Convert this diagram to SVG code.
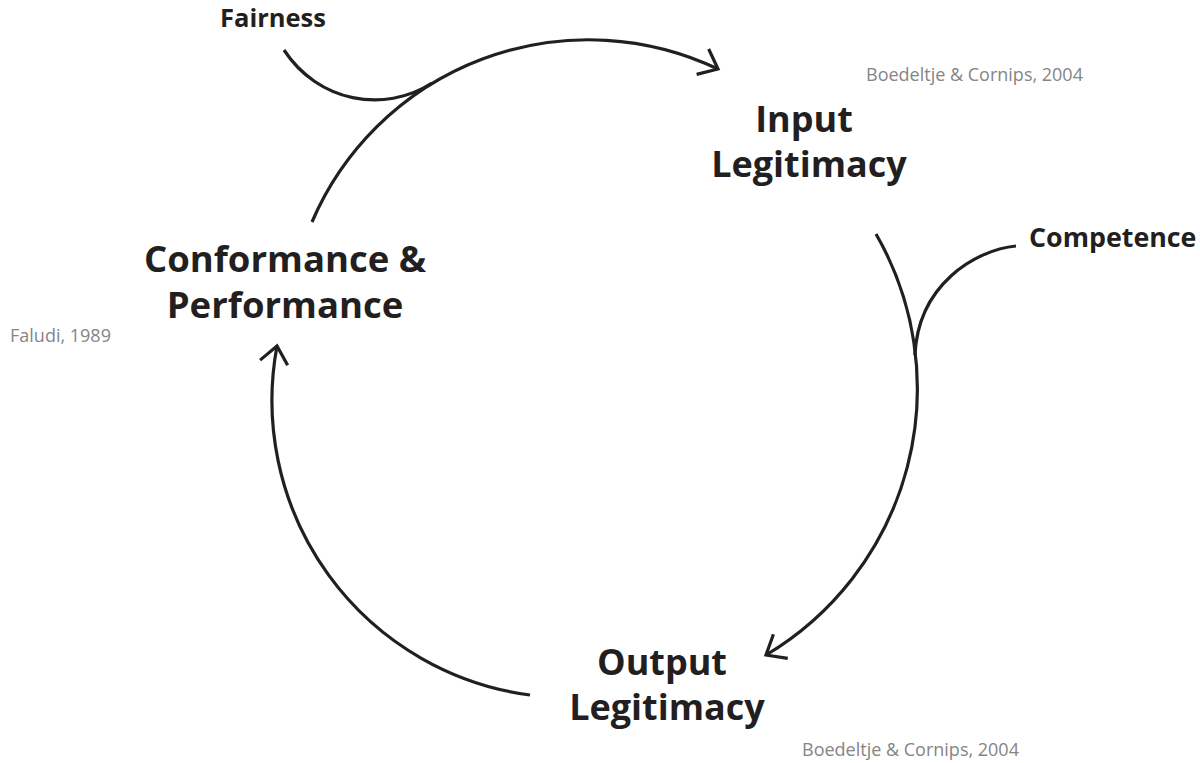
<svg xmlns="http://www.w3.org/2000/svg" width="1200" height="763" viewBox="0 0 1200 763">
<style>
.main{font-family:"Open Sans","Noto Sans","Liberation Sans",sans-serif;font-weight:700;font-size:36px;fill:#231f20;text-anchor:middle}
.side{font-family:"Open Sans","Noto Sans","Liberation Sans",sans-serif;font-weight:700;font-size:25.5px;fill:#231f20}
.cite{font-family:"Open Sans","Noto Sans","Liberation Sans",sans-serif;font-weight:400;font-size:18px;fill:#858585}
.line{fill:none;stroke:#231f20;stroke-width:3.2;stroke-linecap:butt}
</style>
<defs>
<marker id="arr" markerUnits="userSpaceOnUse" markerWidth="40" markerHeight="40" viewBox="-25 -20 40 40" refX="0" refY="0" orient="auto" overflow="visible">
<path d="M-17,-14 L0,0 L-17,14" fill="none" stroke="#231f20" stroke-width="3.2"/>
</marker>
</defs>
<rect width="1200" height="763" fill="#ffffff"/>
<g id="connectors">
<path class="line" d="M312,222 A301,301 0 0 1 718,69" marker-end="url(#arr)"/>
<path class="line" d="M876,234 A310,310 0 0 1 766,655" marker-end="url(#arr)"/>
<path class="line" d="M530,695 A297,297 0 0 1 277,346" marker-end="url(#arr)"/>
<path class="line" d="M284,50 C318,102 384,114 432,83"/>
<path class="line" d="M1016,246 C975,250 918,285 915,355"/>
</g>
<g id="node-input">
<text class="main" x="804" y="132">Input</text>
<text class="main" x="809" y="177">Legitimacy</text>
</g>
<g id="node-output">
<text class="main" x="662" y="675">Output</text>
<text class="main" x="667" y="720">Legitimacy</text>
</g>
<g id="node-conformance">
<text class="main" x="285" y="272" style="font-size:36.5px">Conformance &amp;</text>
<text class="main" x="285" y="318" style="font-size:36.5px">Performance</text>
</g>
<g id="node-fairness">
<text class="side" x="220" y="27">Fairness</text>
</g>
<g id="node-competence">
<text class="side" x="1029" y="247" style="font-size:26.8px">Competence</text>
</g>
<g id="citations">
<text class="cite" x="866" y="81">Boedeltje &amp; Cornips, 2004</text>
<text class="cite" x="10" y="342">Faludi, 1989</text>
<text class="cite" x="802" y="756">Boedeltje &amp; Cornips, 2004</text>
</g>
</svg>
